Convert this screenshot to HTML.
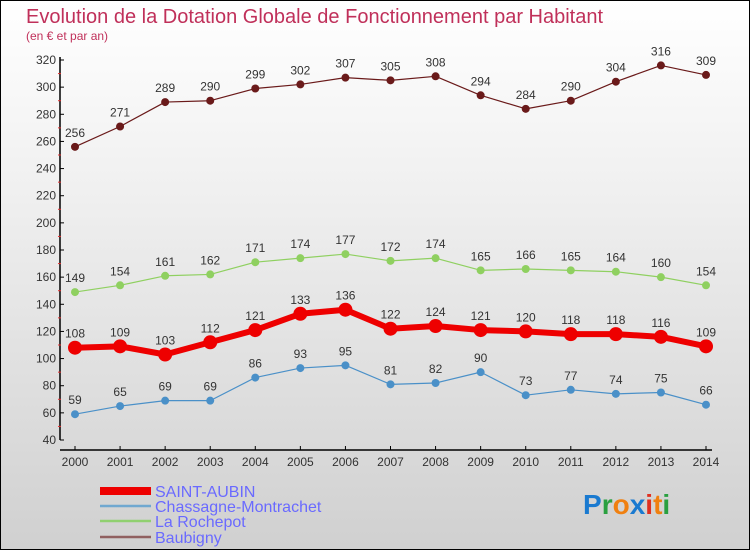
<!DOCTYPE html>
<html><head><meta charset="utf-8"><style>
body{margin:0;width:750px;height:550px;overflow:hidden;font-family:"Liberation Sans",sans-serif}
#wrap{position:absolute;left:0;top:0;width:748px;height:548px;border:1px solid #000;background:linear-gradient(#fff 0%,#f2f2f2 30%,#d0d0d0 100%)}
</style></head><body>
<div id="wrap">
<svg id="svg" width="750" height="550" style="position:absolute;left:-1px;top:-1px">
<text x="26" y="23" font-size="20" fill="#c0305a">Evolution de la Dotation Globale de Fonctionnement par Habitant</text>
<text x="26" y="40" font-size="12" fill="#c0305a">(en € et par an)</text>
<g id="axes"></g><g id="series"></g><g id="legend"></g>
<text x="583" y="514" font-size="28" font-weight="bold"><tspan fill="#1a7ad0">P</tspan><tspan fill="#2aa040">r</tspan><tspan fill="#f08010">o</tspan><tspan fill="#1a7ad0">x</tspan><tspan fill="#e03020">i</tspan><tspan fill="#f08010">t</tspan><tspan fill="#2aa040">i</tspan></text>
</svg></div>
<script>
const years=[2000,2001,2002,2003,2004,2005,2006,2007,2008,2009,2010,2011,2012,2013,2014];
const yTicks=[40,60,80,100,120,140,160,180,200,220,240,260,280,300,320];
const seriesNames=["SAINT-AUBIN","Chassagne-Montrachet","La Rochepot","Baubigny"];
const saintAubin=[108,109,103,112,121,133,136,122,124,121,120,118,118,116,109];
const chassagne=[59,65,69,69,86,93,95,81,82,90,73,77,74,75,66];
const rochepot=[149,154,161,162,171,174,177,172,174,165,166,165,164,160,154];
const baubigny=[256,271,289,290,299,302,307,305,308,294,284,290,304,316,309];
const NS="http://www.w3.org/2000/svg";
const X=i=>75+i*(706-75)/14;
const Y=v=>440-(v-40)*(380/280);
function mk(t,a,p){const e=document.createElementNS(NS,t);for(const k in a)e.setAttribute(k,a[k]);p.appendChild(e);return e;}
const ax=document.getElementById('axes');
let l=mk('line',{x1:60,y1:Y(320)-3,x2:60,y2:440,stroke:'#000','stroke-width':1.5},ax);


l=mk('line',{x1:60,y1:450,x2:712,y2:450,stroke:'#000','stroke-width':1.5},ax);


yTicks.forEach((v,i)=>{
 mk('line',{x1:60,y1:Y(v),x2:64,y2:Y(v),stroke:'#000'},ax);
 if(i<yTicks.length-1)mk('line',{x1:58,y1:Y(v+10),x2:61,y2:Y(v+10),stroke:'#e03030'},ax);
 const t=mk('text',{x:56,y:Y(v)+4,'font-size':12,fill:'#333','text-anchor':'end'},ax);t.textContent=v;
 
 
});
years.forEach((y,i)=>{
 mk('line',{x1:X(i),y1:446,x2:X(i),y2:450,stroke:'#000'},ax);
 const t=mk('text',{x:X(i),y:466,'font-size':12,fill:'#333','text-anchor':'middle'},ax);t.textContent=y;
 
 
});
const sg=document.getElementById('series');
function draw(data,color,w,r,name){
 const g=mk('g',{},sg);
 
 
 const p=mk('polyline',{points:data.map((v,i)=>X(i)+','+Y(v)).join(' '),fill:'none',stroke:color,'stroke-width':w,'stroke-linejoin':'round'},g);
 
 
 data.forEach((v,i)=>{
  const c=mk('circle',{cx:X(i),cy:Y(v),r:r,fill:color},g);
  
  
  const t=mk('text',{x:X(i),y:Y(v)-10,'font-size':12,fill:'#333','text-anchor':'middle'},g);t.textContent=v;
  
  
 });
}
draw(baubigny,'#6a1a1a',1.2,4,'baubigny');
draw(rochepot,'#8fd060',1.2,4,'la-rochepot');
draw(chassagne,'#4a90c8',1.2,4,'chassagne-montrachet');
draw(saintAubin,'#ee0000',6,7,'saint-aubin');
const lg=document.getElementById('legend');
const lc=['#ee0000','#70a8d0','#90d070','#906060'],lw=[8,2.5,2.5,2.5],ly=[491,506,521,537];
seriesNames.forEach((n,i)=>{
 const g=mk('g',{},lg);
 
 
 mk('line',{x1:100,y1:ly[i],x2:151,y2:ly[i],stroke:lc[i],'stroke-width':lw[i]},g);
 const t=mk('text',{x:155,y:ly[i]+6,'font-size':16,fill:'#6a6aff'},g);t.textContent=n;
});
</script>
</body></html>
